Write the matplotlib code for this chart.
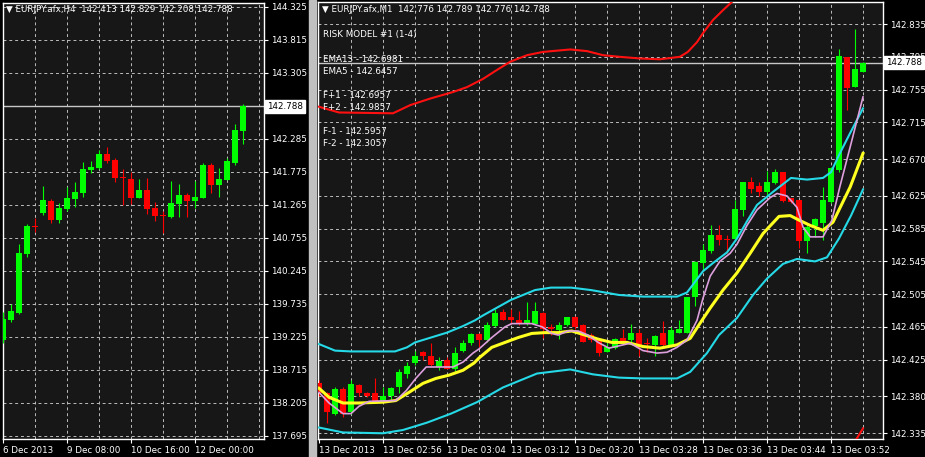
import matplotlib
matplotlib.use("Agg")
import matplotlib.pyplot as plt
import numpy as np
from matplotlib.patches import Rectangle
from matplotlib.transforms import blended_transform_factory

W, H = 925, 457

# ---------------- EURJPY H4 (left window) ----------------
h4_open = [139.178, 139.487, 139.596, 140.507, 140.930, 141.141, 141.327, 141.033, 141.203, 141.358,
           141.450, 141.806, 141.837, 142.053, 141.960, 141.690, 141.667, 141.373, 141.497, 141.218,
           141.100, 141.079, 141.280, 141.419, 141.327, 141.373, 141.883, 141.574, 141.651, 141.914,
           142.413]
h4_high = [139.611, 139.735, 140.662, 140.971, 141.064, 141.558, 141.358, 141.296, 141.543, 141.620,
           141.929, 141.945, 142.115, 142.161, 141.991, 141.821, 141.775, 141.667, 141.682, 141.311,
           141.172, 141.636, 141.589, 141.450, 141.636, 141.914, 141.914, 141.837, 141.991, 142.517,
           142.829]
h4_low = [139.132, 139.456, 139.580, 140.461, 140.847, 141.110, 140.987, 140.987, 141.172, 141.234,
          141.388, 141.759, 141.821, 141.914, 141.620, 141.265, 141.280, 141.365, 141.126, 141.017,
          140.832, 141.064, 141.079, 141.079, 141.218, 141.365, 141.450, 141.388, 141.645, 141.883,
          142.208]
h4_close = [139.503, 139.626, 140.527, 140.940, 140.925, 141.342, 141.033, 141.218, 141.373, 141.466,
            141.821, 141.852, 142.053, 141.945, 141.682, 141.682, 141.373, 141.497, 141.203, 141.095,
            141.095, 141.296, 141.419, 141.327, 141.388, 141.883, 141.574, 141.667, 141.945, 142.424,
            142.788]
h4_yticks = [144.325, 143.815, 143.305, 142.795, 142.285, 141.775, 141.265,
             140.755, 140.245, 139.735, 139.225, 138.715, 138.205, 137.695]
h4_hidden = [142.795]  # label sits under the price box
h4_xlabels = ["6 Dec 2013", "9 Dec 08:00", "10 Dec 16:00", "12 Dec 00:00"]
h4_header = "EURJPY.afx,H4  142.413 142.829 142.208 142.788"

# ---------------- EURJPY M1 (right window) ----------------
m1_open = [142.396, 142.384, 142.359, 142.389, 142.361, 142.394, 142.384, 142.384, 142.373, 142.381,
           142.391, 142.408, 142.421, 142.434, 142.430, 142.416, 142.425, 142.413, 142.436, 142.445,
           142.456, 142.449, 142.466, 142.483, 142.477, 142.474, 142.469, 142.469, 142.482, 142.465,
           142.461, 142.467, 142.477, 142.467, 142.455, 142.449, 142.434, 142.439, 142.452, 142.449,
           142.457, 142.445, 142.443, 142.457, 142.443, 142.458, 142.457, 142.501, 142.543, 142.558,
           142.577, 142.573, 142.573, 142.608, 142.642, 142.637, 142.630, 142.641, 142.654, 142.622,
           142.620, 142.570, 142.588, 142.592, 142.617, 142.657, 142.795, 142.758, 142.776]
m1_high = [142.400, 142.385, 142.391, 142.391, 142.400, 142.395, 142.385, 142.403, 142.392, 142.392,
           142.413, 142.422, 142.436, 142.435, 142.445, 142.428, 142.428, 142.440, 142.449, 142.458,
           142.457, 142.471, 142.487, 142.487, 142.487, 142.485, 142.496, 142.495, 142.483, 142.469,
           142.471, 142.477, 142.478, 142.468, 142.458, 142.450, 142.445, 142.451, 142.463, 142.469,
           142.463, 142.451, 142.455, 142.472, 142.465, 142.474, 142.502, 142.545, 142.566, 142.590,
           142.589, 142.577, 142.620, 142.642, 142.648, 142.642, 142.655, 142.658, 142.654, 142.623,
           142.620, 142.589, 142.598, 142.636, 142.660, 142.804, 142.795, 142.829, 142.789]
m1_low = [142.381, 142.348, 142.357, 142.355, 142.359, 142.381, 142.379, 142.374, 142.373, 142.374,
          142.384, 142.403, 142.418, 142.425, 142.417, 142.412, 142.413, 142.411, 142.434, 142.443,
          142.441, 142.447, 142.465, 142.473, 142.469, 142.467, 142.467, 142.469, 142.452, 142.455,
          142.450, 142.466, 142.463, 142.446, 142.446, 142.429, 142.434, 142.438, 142.446, 142.447,
          142.429, 142.434, 142.429, 142.441, 142.441, 142.457, 142.457, 142.490, 142.534, 142.555,
          142.565, 142.555, 142.571, 142.601, 142.628, 142.625, 142.626, 142.639, 142.617, 142.616,
          142.562, 142.555, 142.575, 142.571, 142.616, 142.654, 142.730, 142.758, 142.776]
m1_close = [142.384, 142.361, 142.389, 142.359, 142.395, 142.384, 142.380, 142.375, 142.381, 142.390,
            142.410, 142.417, 142.430, 142.429, 142.418, 142.423, 142.414, 142.433, 142.445, 142.456,
            142.449, 142.467, 142.482, 142.474, 142.474, 142.469, 142.474, 142.485, 142.463, 142.462,
            142.467, 142.477, 142.465, 142.447, 142.449, 142.433, 142.440, 142.450, 142.447, 142.457,
            142.440, 142.444, 142.454, 142.443, 142.461, 142.463, 142.501, 142.544, 142.559, 142.577,
            142.571, 142.571, 142.609, 142.642, 142.634, 142.630, 142.642, 142.654, 142.619, 142.617,
            142.570, 142.587, 142.597, 142.620, 142.659, 142.796, 142.757, 142.780, 142.788]

# indicator lines (bar index, price)
red_up_x = [0, 2.5, 9.25, 11.4, 13.9, 16.75, 18.5, 20.5, 22.25, 23.9, 26, 28, 31.4, 33.5, 35.5,
            37.6, 40.1, 42.6, 45.1, 46.1, 47.25, 48, 49.25, 50.5, 51.6, 53]
red_up_y = [142.734, 142.727, 142.726, 142.736, 142.744, 142.752, 142.758, 142.768, 142.779, 142.789,
            142.797, 142.801, 142.804, 142.802, 142.797, 142.795, 142.793, 142.792, 142.795, 142.801,
            142.813, 142.824, 142.840, 142.852, 142.862, 142.879]
red_dn_x = [66, 67, 68]
red_dn_y = [142.300, 142.325, 142.341]

cyan_up_x = [0, 2, 4, 9.5, 11, 12, 14, 16, 18, 19.5, 20.5, 24, 27, 29, 31.5, 34, 37.5, 40.5, 44.75,
             46, 47, 48, 49.25, 51, 52.25, 53.5, 54.75, 56.75, 59, 61, 63, 64, 65, 66.4, 68]
cyan_up_y = [142.444, 142.436, 142.435, 142.435, 142.440, 142.446, 142.452, 142.458, 142.466, 142.473,
             142.479, 142.498, 142.510, 142.513, 142.513, 142.510, 142.504, 142.502, 142.502,
             142.507, 142.520, 142.533, 142.543, 142.556, 142.573, 142.594, 142.614, 142.630, 142.647,
             142.645, 142.647, 142.654, 142.675, 142.702, 142.732]
cyan_dn_x = [0, 3, 8, 10.5, 13.5, 16.5, 19.75, 23, 27.25, 31.4, 34.25, 37.5, 40.5, 44.75, 46.4, 48.5,
             50, 52.25, 54.25, 56, 58, 59.75, 62, 63.5, 65, 66.5, 68]
cyan_dn_y = [142.342, 142.336, 142.335, 142.339, 142.348, 142.359, 142.373, 142.391, 142.408, 142.413,
             142.407, 142.403, 142.402, 142.402, 142.410, 142.433, 142.455, 142.476, 142.504, 142.524,
             142.542, 142.548, 142.545, 142.550, 142.573, 142.601, 142.633]

ema13_x = [0, 1.25, 3, 5, 8, 9.6, 11.25, 13, 14.6, 16.25, 18, 19.4, 20, 21.6, 23.25, 24.9, 26.6, 28.25,
           29.9, 31.6, 33.25, 34.9, 36.6, 38.5, 40.5, 42.6, 44.75, 46.4, 47.6, 48.9, 50.5, 52.25, 53.9,
           55.5, 57.5, 58.9, 60.1, 61.4, 63, 64.25, 65.1, 66.4, 68]
ema13_y = [142.390, 142.379, 142.372, 142.372, 142.373, 142.375, 142.385, 142.396, 142.402, 142.406,
           142.412, 142.421, 142.427, 142.440, 142.446, 142.452, 142.457, 142.458, 142.458, 142.460,
           142.455, 142.450, 142.446, 142.446, 142.441, 142.439, 142.443, 142.451, 142.469, 142.488,
           142.510, 142.531, 142.555, 142.579, 142.600, 142.601, 142.595, 142.589, 142.583, 142.593,
           142.610, 142.636, 142.677]

ema5_x = [0, 1.25, 3, 4, 5, 6.25, 9.6, 10.9, 12.1, 13.4, 15.5, 16.75, 18, 19.25, 20, 21.6, 23.25, 24.1,
          26.6, 27.9, 29.1, 29.9, 31.1, 32.4, 33.6, 34.9, 36.25, 38, 38.9, 40.5, 42.25, 43.5, 44.75,
          46, 47.25, 48, 48.9, 50.1, 51.4, 52.25, 53.5, 54.75, 56.4, 57.25, 58.5, 59.75, 60.5, 61.4,
          63, 64.1, 65.1, 66.4, 68]
ema5_y = [142.385, 142.372, 142.359, 142.359, 142.368, 142.374, 142.375, 142.387, 142.402, 142.416,
          142.416, 142.416, 142.422, 142.433, 142.438, 142.452, 142.465, 142.469, 142.469, 142.465,
          142.457, 142.455, 142.460, 142.460, 142.455, 142.446, 142.439, 142.443, 142.445, 142.436,
          142.433, 142.434, 142.440, 142.449, 142.473, 142.500, 142.527, 142.545, 142.555, 142.566,
          142.589, 142.608, 142.623, 142.628, 142.625, 142.611, 142.587, 142.575, 142.575, 142.595,
          142.636, 142.685, 142.746]

m1_yticks = [142.835, 142.795, 142.755, 142.715, 142.670, 142.625, 142.585,
             142.545, 142.505, 142.465, 142.425, 142.380, 142.335]
m1_xlabels = ["13 Dec 2013", "13 Dec 02:56", "13 Dec 03:04", "13 Dec 03:12", "13 Dec 03:20",
              "13 Dec 03:28", "13 Dec 03:36", "13 Dec 03:44", "13 Dec 03:52"]
m1_header = "EURJPY.afx,M1  142.776 142.789 142.776 142.788"
info_lines = ["RISK MODEL #1 (1-4)", "EMA13 - 142.6981", "EMA5 - 142.6457",
              "F+1 - 142.6957", "F+2 - 142.9857", "F-1 - 142.5957", "F-2 - 142.3057"]
info_rows = [35, 59, 71, 95, 107, 131, 143]

last_price = 142.788

FS = 6.3
GRID = dict(color="#bdbdbd", lw=0.7, ls=(0, (3, 3)), zorder=1)


def make_ax(x0, y0, x1, y1):
    return fig.add_axes([x0 / W, 1 - y1 / H, (x1 - x0) / W, (y1 - y0) / H])


def candles(ax, o, h, l, c, min_h):
    o, h, l, c = map(np.asarray, (o, h, l, c))
    idx = np.arange(len(o))
    col = np.where(c >= o, "#00ff00", "#ff0000")
    ax.vlines(idx, l, h, colors=col, lw=0.8, zorder=3)
    ax.bar(idx, np.maximum(np.abs(c - o), min_h), 0.65, np.minimum(o, c),
           color=col, lw=0, zorder=4)


def style(ax, xlim, ylim, yticks, xticks, xlabels, gridx, hidden=()):
    ax.set_facecolor("#171717")
    ax.set_xlim(*xlim)
    ax.set_ylim(*ylim)
    for s in ax.spines.values():
        s.set_color("white")
        s.set_linewidth(1)
    ax.yaxis.tick_right()
    ax.set_yticks(yticks, ["" if v in hidden else f"{v:.3f}" for v in yticks])
    ax.set_xticks(xticks, xlabels)
    ax.tick_params(colors="white", labelcolor="white", labelsize=FS, length=3, width=0.8, pad=2)
    for t in ax.get_xticklabels():
        t.set_ha("left")
    for v in yticks:
        ax.axhline(v, **GRID)
    for v in gridx:
        ax.axvline(v, **GRID)
    ax.axhline(last_price, color="#c8c8c8", lw=1, zorder=2)
    return blended_transform_factory(fig.transFigure, ax.transData)


fig = plt.figure(figsize=(W / 100, H / 100), dpi=100, facecolor="black")

# left window
ax1 = make_ax(2.5, 2.5, 264, 439)
candles(ax1, h4_open, h4_high, h4_low, h4_close, 0.015)
tr1 = style(ax1, (-0.0625, 32.625), (137.648, 144.394), h4_yticks,
            [0, 8, 16, 24], h4_xlabels, range(4, 33, 4), h4_hidden)
ax1.text(267 / W, last_price, "142.788", transform=tr1, color="black", fontsize=FS,
         va="center", ha="left", zorder=10, clip_on=False,
         bbox=dict(boxstyle="square,pad=0.2", fc="white", ec="white"))
fig.text(6 / W, 1 - 10 / H, "\u25bc " + h4_header, color="white", fontsize=FS, va="center")

# right window
ax2 = make_ax(318, 2, 883, 439)
candles(ax2, m1_open, m1_high, m1_low, m1_close, 0.0012)
ax2.plot(red_up_x, red_up_y, color="#ff1010", lw=1.5, zorder=5)
ax2.plot(red_dn_x, red_dn_y, color="#ff1010", lw=1.5, zorder=5)
ax2.plot(cyan_up_x, cyan_up_y, color="#25d9e6", lw=1.5, zorder=5)
ax2.plot(cyan_dn_x, cyan_dn_y, color="#25d9e6", lw=1.5, zorder=5)
ax2.plot(ema13_x, ema13_y, color="#ffff20", lw=2.2, zorder=5)
ax2.plot(ema5_x, ema5_y, color="#dda0dd", lw=1.2, zorder=6)
tr2 = style(ax2, (-0.125, 70.5), (142.328, 142.862), m1_yticks,
            range(0, 65, 8), m1_xlabels, range(4, 69, 4))
ax2.text(886 / W, last_price, "142.788", transform=tr2, color="black", fontsize=FS,
         va="center", ha="left", zorder=10, clip_on=False,
         bbox=dict(boxstyle="square,pad=0.2", fc="white", ec="white"))
fig.text(322 / W, 1 - 10 / H, "\u25bc " + m1_header, color="white", fontsize=FS, va="center")
for txt, row in zip(info_lines, info_rows):
    fig.text(323 / W, 1 - row / H, txt, color="white", fontsize=FS, va="center")

# window separator
fig.patches.append(Rectangle((309 / W, 0), 7 / W, 1, transform=fig.transFigure,
                             color="#c0c0c0", zorder=0))

fig.savefig("out.png", dpi=100, facecolor="black")
